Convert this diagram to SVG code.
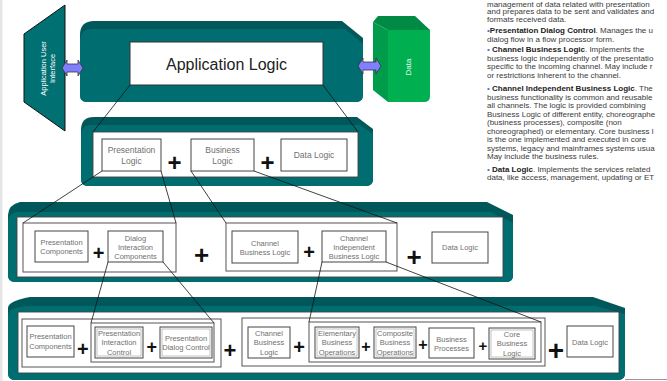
<svg xmlns="http://www.w3.org/2000/svg" width="667" height="381" viewBox="0 0 667 381">
  <defs>
    <style>
      .band-top { fill: #00585a; }
      .band { fill: #006e70; }
      .panel { fill: #ffffff; stroke: #444; stroke-width: 0.9; }
      .grp { fill: #ffffff; stroke: #555; stroke-width: 1; }
      .box { fill: #ffffff; stroke: #444; stroke-width: 1; }
      .box2 { fill: none; stroke: #999; stroke-width: 0.6; }
      .lbl { font-family: "Liberation Sans", Arial, sans-serif; fill: #707070; text-anchor: middle; }
      .l8 { font-size: 8.5px; }
      .l7 { font-size: 7.5px; }
      .plus { font-family: "Liberation Sans", Arial, sans-serif; font-weight: bold; fill: #111; text-anchor: middle; }
      .link { stroke: #111; stroke-width: 0.8; fill: none; }
      .arrow { fill: #8080ff; stroke: #333; stroke-width: 0.8; }
      .note { font-family: "Liberation Sans", Arial, sans-serif; font-size: 8px; fill: #3a3a3a; }
      .note .b { font-weight: bold; fill: #222; }
      .note .dot { fill: #4a6fd8; }
    </style>
  </defs>

  <rect width="667" height="381" fill="#ffffff"/>
  <rect x="0" y="0" width="2.5" height="381" fill="#e6e6e6"/>

  <!-- application user interface -->
  <g id="ui">
    <polygon points="65,5 65,131 24,102 24,34" fill="#007072" stroke="#111" stroke-width="1"/>
    <text class="lbl" style="fill:#fff;font-size:7.5px" transform="translate(45.5,68.5) rotate(-90)">Application User</text>
    <text class="lbl" style="fill:#fff;font-size:7.5px" transform="translate(54.5,68.5) rotate(-90)">Interface</text>
  </g>

  <!-- application logic tier -->
  <g id="app-logic">
    <path class="band-top" d="M80,35 Q80,21 94,21 L342,21 L363,38 L363,95 Q363,102 356,102 L87,102 Q80,102 80,95 Z"/>
    <path class="band" d="M80,42 Q80,29 93,29 L345,29 L363,44 L363,95 Q363,102 356,102 L87,102 Q80,102 80,95 Z"/>
    <rect x="130" y="42" width="193" height="43" fill="#fff" stroke="#333" stroke-width="1"/>
    <text x="226.5" y="69.5" font-family="Liberation Sans, Arial, sans-serif" font-size="16" fill="#222" text-anchor="middle">Application Logic</text>
  </g>

  <!-- data store -->
  <g id="data">
    <polygon points="373,22 378,16 415,16 430,30 388,30" fill="#008a44"/>
    <polygon points="373,22 388,30 388,102 373,90" fill="#009c4c"/>
    <path d="M388,30 L430,30 L430,96 Q430,102 424,102 L388,102 Z" fill="#00b050"/>
    <text class="lbl" style="fill:#e8fff0;font-size:8px" transform="translate(411,67) rotate(-90)">Data</text>
  </g>

  <!-- interface arrows -->
  <g id="arrows">
    <polygon class="arrow" points="62,68 67,60 67,64 78,64 78,60 83,68 78,76 78,72 67,72 67,76"/>
    <polygon class="arrow" points="358,66 363,58 363,62 376,62 376,58 381,66 376,74 376,70 363,70 363,74"/>
  </g>

  <!-- tier 1 breakdown -->
  <g id="tier1">
    <path class="band-top" d="M81,130 Q81,117 94,117 L357,117 L373,129 L373,179 Q373,186 366,186 L88,186 Q81,186 81,179 Z"/>
    <path class="band" d="M81,136 Q81,125 92,125 L360,125 L373,134 L373,179 Q373,186 366,186 L88,186 Q81,186 81,179 Z"/>
    <rect class="panel" x="93" y="132" width="265" height="45"/>
  </g>
  <g id="presentation-logic">
    <rect class="box" x="102" y="139" width="59" height="32"/>
    <text class="lbl l8" x="131.5" y="153">Presentation</text>
    <text class="lbl l8" x="131.5" y="164">Logic</text>
  </g>
  <g id="business-logic">
    <rect class="box" x="191" y="139" width="63" height="32"/>
    <text class="lbl l8" x="222.5" y="153">Business</text>
    <text class="lbl l8" x="222.5" y="164">Logic</text>
  </g>
  <g id="data-logic-1">
    <rect class="box" x="281" y="139" width="66" height="32"/>
    <text class="lbl l8" x="314" y="158">Data Logic</text>
  </g>
  <text class="plus" x="174.5" y="170.5" font-size="24">+</text>
  <text class="plus" x="267.5" y="170.5" font-size="24">+</text>

  <!-- tier 2 breakdown -->
  <g id="tier2">
    <path class="band-top" d="M8,215 Q8,205 20,202 L487,202 L513,215 L513,275 Q513,282 506,282 L15,282 Q8,282 8,275 Z"/>
    <path class="band" d="M8,222 Q8,213 18,212 L490,212 L513,223 L513,275 Q513,282 506,282 L15,282 Q8,282 8,275 Z"/>
    <rect class="panel" x="17" y="217" width="486" height="60"/>
    <rect class="grp" x="23" y="223" width="153" height="49"/>
    <rect class="grp" x="226" y="223" width="171" height="48"/>
  </g>
  <g id="presentation-components-1">
    <rect class="box" x="35" y="231" width="53" height="31"/>
    <text class="lbl l7" x="61.5" y="244.5">Presentation</text>
    <text class="lbl l7" x="61.5" y="253.5">Components</text>
  </g>
  <g id="dialog-interaction">
    <rect class="box" x="108" y="231" width="55" height="31"/>
    <text class="lbl l7" x="135.5" y="240.5">Dialog</text>
    <text class="lbl l7" x="135.5" y="249.5">Interaction</text>
    <text class="lbl l7" x="135.5" y="258.5">Components</text>
  </g>
  <g id="channel-business-1">
    <rect class="box" x="232" y="231" width="66" height="32"/>
    <text class="lbl l7" x="265" y="245.5">Channel</text>
    <text class="lbl l7" x="265" y="254.5">Business Logic</text>
  </g>
  <g id="channel-independent">
    <rect class="box" x="322" y="231" width="64" height="31"/>
    <text class="lbl l7" x="354" y="241">Channel</text>
    <text class="lbl l7" x="354" y="250">Independent</text>
    <text class="lbl l7" x="354" y="259">Business Logic</text>
  </g>
  <g id="data-logic-2">
    <rect class="box" x="432" y="232" width="56" height="31"/>
    <text class="lbl l7" x="460" y="250">Data Logic</text>
  </g>
  <text class="plus" x="98.7" y="259.5" font-size="20">+</text>
  <text class="plus" x="201.7" y="264" font-size="26">+</text>
  <text class="plus" x="309" y="258.5" font-size="20">+</text>
  <text class="plus" x="414" y="265.5" font-size="26">+</text>

  <!-- tier 3 breakdown -->
  <g id="tier3">
    <path class="band-top" d="M8,308 Q8,301 30,297 L593,297 L625,308 L625,373 Q625,380 618,380 L15,380 Q8,380 8,373 Z"/>
    <path class="band" d="M8,315 Q8,308 28,306 L596,306 L625,314 L625,373 Q625,380 618,380 L15,380 Q8,380 8,373 Z"/>
    <rect class="panel" x="18" y="312" width="601" height="61"/>
    <rect class="grp" x="22" y="319" width="199" height="48"/>
    <rect class="grp" x="91" y="323" width="123" height="39"/>
    <rect class="grp" x="242" y="318" width="303" height="48"/>
    <rect class="grp" x="309" y="322" width="232" height="40"/>
  </g>
  <g id="presentation-components-2">
    <rect class="box" x="27" y="326" width="47" height="31"/>
    <text class="lbl l7" x="50.5" y="338.5">Presentation</text>
    <text class="lbl l7" x="50.5" y="349">Components</text>
  </g>
  <g id="presentation-interaction">
    <rect class="box" x="95" y="327" width="48" height="31"/>
    <rect class="box2" x="97" y="329" width="44" height="27"/>
    <text class="lbl l7" x="119" y="335.5">Presentation</text>
    <text class="lbl l7" x="119" y="345">Interaction</text>
    <text class="lbl l7" x="119" y="354.5">Control</text>
  </g>
  <g id="presentation-dialog">
    <rect class="box" x="160" y="327" width="52" height="31"/>
    <rect class="box2" x="162" y="329" width="48" height="27"/>
    <text class="lbl l7" x="186" y="340.5">Presentation</text>
    <text class="lbl l7" x="186" y="349.5">Dialog Control</text>
  </g>
  <g id="channel-business-2">
    <rect class="box" x="248" y="327" width="42" height="31"/>
    <text class="lbl l7" x="269" y="335.5">Channel</text>
    <text class="lbl l7" x="269" y="345">Business</text>
    <text class="lbl l7" x="269" y="354.5">Logic</text>
  </g>
  <g id="elementary-ops">
    <rect class="box" x="315" y="327" width="44" height="31"/>
    <rect class="box2" x="317" y="329" width="40" height="27"/>
    <text class="lbl l7" x="337" y="335.5">Elementary</text>
    <text class="lbl l7" x="337" y="345">Business</text>
    <text class="lbl l7" x="337" y="354.5">Operations</text>
  </g>
  <g id="composite-ops">
    <rect class="box" x="374" y="327" width="42" height="31"/>
    <rect class="box2" x="376" y="329" width="38" height="27"/>
    <text class="lbl l7" x="395" y="335.5">Composite</text>
    <text class="lbl l7" x="395" y="345">Business</text>
    <text class="lbl l7" x="395" y="354.5">Operations</text>
  </g>
  <g id="business-processes">
    <rect class="box" x="429" y="328" width="45" height="30"/>
    <text class="lbl l7" x="451.5" y="341.5">Business</text>
    <text class="lbl l7" x="451.5" y="350.5">Processes</text>
  </g>
  <g id="core-business">
    <rect class="box" x="489" y="328" width="46" height="31"/>
    <rect class="box2" x="491" y="330" width="42" height="27"/>
    <text class="lbl l7" x="512" y="336.5">Core</text>
    <text class="lbl l7" x="512" y="346">Business</text>
    <text class="lbl l7" x="512" y="355.5">Logic</text>
  </g>
  <g id="data-logic-3">
    <rect class="box" x="567" y="326" width="46" height="31"/>
    <text class="lbl l7" x="590" y="344.5">Data Logic</text>
  </g>
  <text class="plus" x="82.8" y="355.5" font-size="20">+</text>
  <text class="plus" x="151.7" y="353" font-size="18">+</text>
  <text class="plus" x="230" y="358" font-size="22">+</text>
  <text class="plus" x="299" y="354" font-size="20">+</text>
  <text class="plus" x="366" y="351.5" font-size="16">+</text>
  <text class="plus" x="423" y="350" font-size="16">+</text>
  <text class="plus" x="483" y="351" font-size="15">+</text>
  <text class="plus" x="556" y="360" font-size="28">+</text>
  <line x1="625" y1="379.5" x2="667" y2="379.5" stroke="#999" stroke-width="1"/>

  <!-- decomposition connectors -->
  <g id="connectors">
    <line class="link" x1="130" y1="85" x2="93" y2="132"/>
    <line class="link" x1="323" y1="85" x2="358" y2="132"/>
    <line class="link" x1="102" y1="171" x2="23" y2="223"/>
    <line class="link" x1="161" y1="171" x2="176" y2="223"/>
    <line class="link" x1="191" y1="171" x2="226" y2="223"/>
    <line class="link" x1="254" y1="171" x2="397" y2="223"/>
    <line class="link" x1="108" y1="262" x2="91" y2="323"/>
    <line class="link" x1="163" y1="262" x2="214" y2="323"/>
    <line class="link" x1="322" y1="262" x2="309" y2="322"/>
    <line class="link" x1="386" y1="262" x2="541" y2="322"/>
  </g>

  <!-- layer descriptions -->
  <g id="notes" class="note">
    <text x="487" y="6.5">management of data related with presentation</text>
    <text x="487" y="14">and prepares data to be sent and validates and</text>
    <text x="487" y="22">formats received data.</text>
    <text x="487" y="33"><tspan class="dot">•</tspan><tspan class="b">Presentation Dialog Control</tspan>. Manages the u</text>
    <text x="487" y="41.5">dialog flow in a flow processor form.</text>
    <text x="487" y="52"><tspan class="dot">•</tspan> <tspan class="b">Channel Business Logic</tspan>. Implements the</text>
    <text x="487" y="60.5">business logic independently of the presentatio</text>
    <text x="487" y="69">specific to the incoming channel. May include r</text>
    <text x="487" y="77.5">or restrictions inherent to the channel.</text>
    <text x="487" y="91"><tspan class="dot">•</tspan> <tspan class="b">Channel Independent Business Logic</tspan>. The</text>
    <text x="487" y="99.5">business functionality is common and reusable</text>
    <text x="487" y="108">all channels. The logic is provided combining</text>
    <text x="487" y="116.5">Business Logic of different entity, choreographe</text>
    <text x="487" y="125">(business processes), composite (non</text>
    <text x="487" y="133.5">choreographed) or elementary. Core business l</text>
    <text x="487" y="142">is the one implemented and executed in core</text>
    <text x="487" y="150.5">systems, legacy and mainframes systems usua</text>
    <text x="487" y="159">May include the business rules.</text>
    <text x="487" y="171.5"><tspan class="dot">•</tspan> <tspan class="b">Data Logic</tspan>. Implements the services related</text>
    <text x="487" y="180">data, like access, management, updating or ET</text>
  </g>
</svg>
